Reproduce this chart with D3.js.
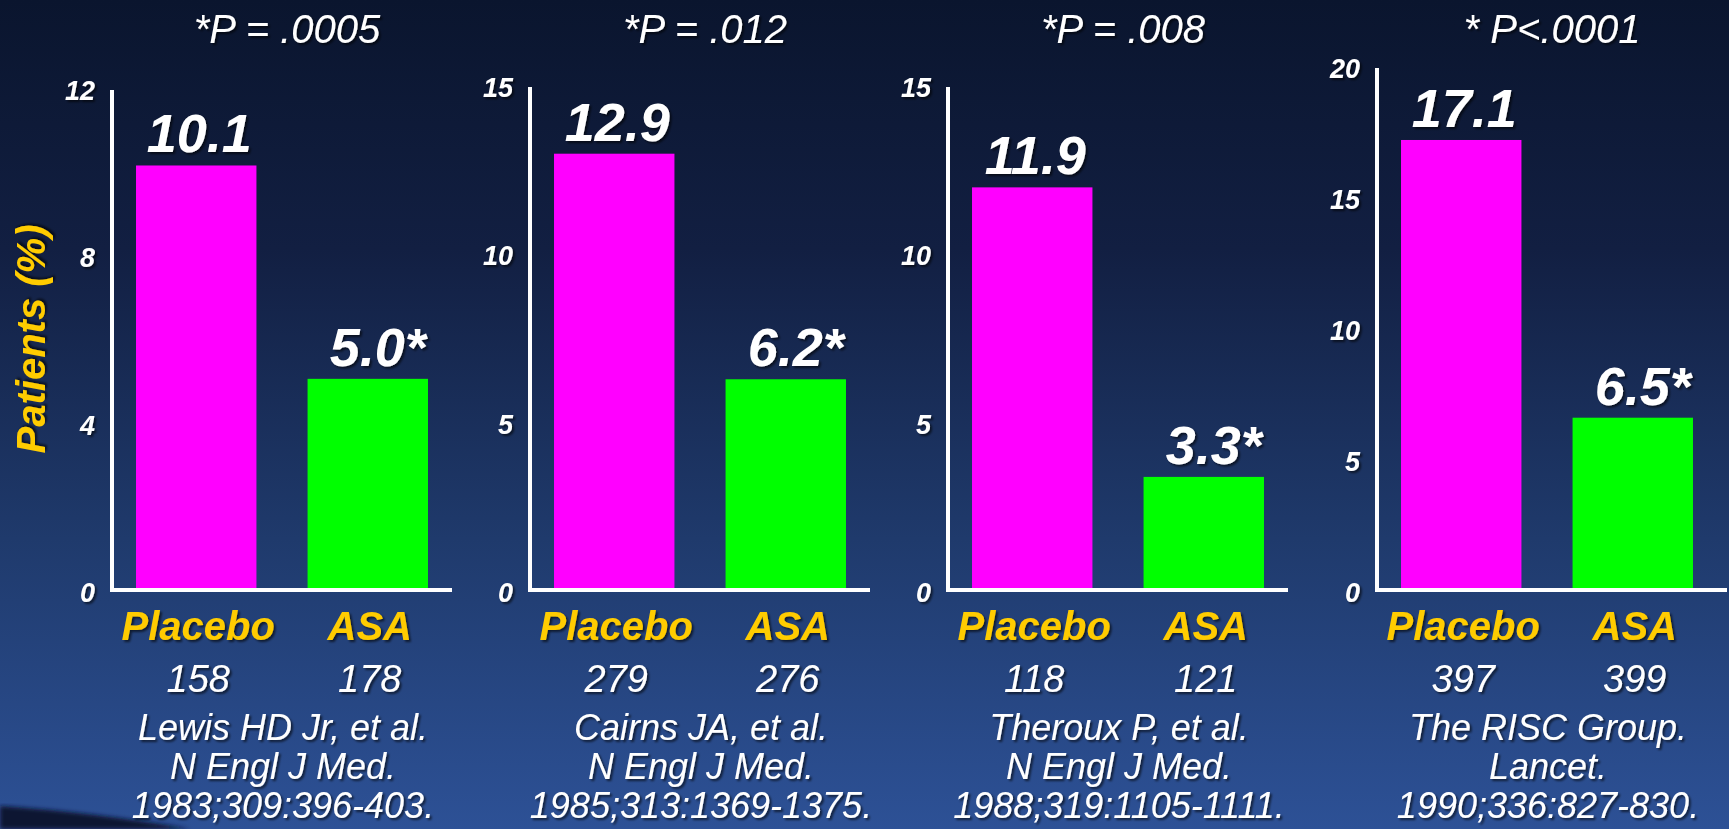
<!DOCTYPE html>
<html>
<head>
<meta charset="utf-8">
<script src="https://cdn.jsdelivr.net/npm/d3@7"></script>
<style>
  html, body { margin: 0; padding: 0; background: #0b1630; overflow: hidden; }
  svg { display: block; }
  text { font-family: "Liberation Sans", Arial, Helvetica, sans-serif; font-style: italic; }
</style>
</head>
<body>
<svg id="chart" width="1729" height="829"></svg>
<script>
// Event rates (%) in four aspirin trials in unstable angina
const groups = ["Placebo", "ASA"];
const placeboRates = [10.1, 12.9, 11.9, 17.1];
const asaRates = [5.0, 6.2, 3.3, 6.5];
const placeboN = [158, 279, 118, 397];
const asaN = [178, 276, 121, 399];
const pLabels = ["*P = .0005", "*P = .012", "*P = .008", "* P<.0001"];
const axisMax = [12, 15, 15, 20];
const tickSets = [[0, 4, 8, 12], [0, 5, 10, 15], [0, 5, 10, 15], [0, 5, 10, 15, 20]];
const citations = [
  ["Lewis HD Jr, et al.", "N Engl J Med.", "1983;309:396-403."],
  ["Cairns JA, et al.", "N Engl J Med.", "1985;313:1369-1375."],
  ["Theroux P, et al.", "N Engl J Med.", "1988;319:1105-1111."],
  ["The RISC Group.", "Lancet.", "1990;336:827-830."]
];

// Panel layout
const W = 1729, H = 829;
const panelLeft = [112, 530, 948, 1377];
const panelTop = [86, 83, 83, 64];
const baseY = 588;
const plotW = 340;
const yellow = "#ffcc00";
const barColors = { Placebo: "#ff00ff", ASA: "#00ff00" };

const svg = d3.select("#chart");
const defs = svg.append("defs");

const bg = defs.append("linearGradient").attr("id", "bg")
  .attr("x1", 0).attr("y1", 0).attr("x2", 0).attr("y2", 1);
bg.append("stop").attr("offset", "0%").attr("stop-color", "#0a152e");
bg.append("stop").attr("offset", "30%").attr("stop-color", "#121f42");
bg.append("stop").attr("offset", "65%").attr("stop-color", "#1f3a6c");
bg.append("stop").attr("offset", "100%").attr("stop-color", "#2d5196");

const shadow = defs.append("filter").attr("id", "shadow")
  .attr("x", "-10%").attr("y", "-10%").attr("width", "130%").attr("height", "140%");
shadow.append("feDropShadow").attr("dx", 2).attr("dy", 2).attr("stdDeviation", 1.2)
  .attr("flood-color", "#000").attr("flood-opacity", 0.6);

const soft = defs.append("filter").attr("id", "soft");
soft.append("feGaussianBlur").attr("stdDeviation", 2);

svg.append("rect").attr("width", W).attr("height", H).attr("fill", "url(#bg)");

// dark horizon in the lower-left corner
svg.append("path")
  .attr("d", "M0,806 Q90,812 190,829 L0,829 Z")
  .attr("fill", "#0d1630").attr("filter", "url(#soft)");

const fmt = d3.format(".1f");

placeboRates.forEach((pv, i) => {
  const x0 = panelLeft[i];
  const g = svg.append("g");

  const x = d3.scaleBand().domain(groups).range([x0, x0 + plotW])
    .paddingInner(0.298).paddingOuter(0.14);
  const y = d3.scaleLinear().domain([0, axisMax[i]]).range([baseY, panelTop[i]]);

  const rows = [
    { group: "Placebo", value: pv, n: placeboN[i], label: fmt(pv) },
    { group: "ASA", value: asaRates[i], n: asaN[i], label: fmt(asaRates[i]) + "*" }
  ];

  // bars
  g.selectAll("rect.bar").data(rows).join("rect")
    .attr("class", "bar")
    .attr("x", d => x(d.group))
    .attr("width", x.bandwidth())
    .attr("y", d => y(d.value))
    .attr("height", d => y(0) - y(d.value))
    .attr("fill", d => barColors[d.group]);

  // axis lines
  g.append("line")
    .attr("x1", x0).attr("x2", x0)
    .attr("y1", y(axisMax[i]) + 4).attr("y2", baseY + 4)
    .attr("stroke", "#fff").attr("stroke-width", 4);
  g.append("line")
    .attr("x1", x0 - 2).attr("x2", x0 + plotW + (i === 3 ? 10 : 0))
    .attr("y1", baseY + 2).attr("y2", baseY + 2)
    .attr("stroke", "#fff").attr("stroke-width", 4);

  // tick labels
  const axis = d3.axisLeft(y).tickValues(tickSets[i]).tickSize(0).tickPadding(17)
    .tickFormat(d3.format("d"));
  const ax = g.append("g").attr("transform", `translate(${x0},0)`).call(axis);
  ax.select(".domain").remove();
  ax.selectAll("text")
    .attr("fill", "#fff")
    .attr("font-size", 27)
    .attr("font-weight", "bold")
    .attr("font-family", "'Liberation Sans', Arial, sans-serif")
    .attr("font-style", "italic")
    .attr("dy", "0.5em")
    .attr("filter", "url(#shadow)");

  // value labels
  g.selectAll("text.val").data(rows).join("text")
    .attr("class", "val")
    .attr("x", d => x(d.group) + x.bandwidth() / 2 + (d.group === "ASA" ? 10 : 3))
    .attr("y", d => y(d.value) - 13)
    .attr("text-anchor", "middle")
    .attr("fill", "#fff")
    .attr("font-size", 54)
    .attr("font-weight", "bold")
    .attr("filter", "url(#shadow)")
    .text(d => d.label);

  // category labels
  g.selectAll("text.cat").data(rows).join("text")
    .attr("class", "cat")
    .attr("x", d => x(d.group) + x.bandwidth() / 2 + 2)
    .attr("y", 640)
    .attr("text-anchor", "middle")
    .attr("fill", yellow)
    .attr("font-size", 40)
    .attr("font-weight", "bold")
    .attr("filter", "url(#shadow)")
    .text(d => d.group);

  // patient counts
  g.selectAll("text.n").data(rows).join("text")
    .attr("class", "n")
    .attr("x", d => x(d.group) + x.bandwidth() / 2 + 2)
    .attr("y", 692)
    .attr("text-anchor", "middle")
    .attr("fill", "#fff")
    .attr("font-size", 38)
    .attr("filter", "url(#shadow)")
    .text(d => d.n);

  // P value
  g.append("text")
    .attr("x", x0 + plotW / 2 + 5)
    .attr("y", 43)
    .attr("text-anchor", "middle")
    .attr("fill", "#fff")
    .attr("font-size", 40)
    .attr("filter", "url(#shadow)")
    .text(pLabels[i]);

  // citation
  g.selectAll("text.cite").data(citations[i]).join("text")
    .attr("class", "cite")
    .attr("x", x0 + plotW / 2 + 1)
    .attr("y", (d, k) => 740 + k * 39)
    .attr("text-anchor", "middle")
    .attr("fill", "#fff")
    .attr("font-size", 36)
    .attr("filter", "url(#shadow)")
    .text(d => d);
});

// y-axis title
svg.append("text")
  .attr("transform", "translate(45,339) rotate(-90)")
  .attr("text-anchor", "middle")
  .attr("fill", yellow)
  .attr("font-size", 40)
  .attr("font-weight", "bold")
  .attr("filter", "url(#shadow)")
  .text("Patients (%)");
</script>
</body>
</html>
